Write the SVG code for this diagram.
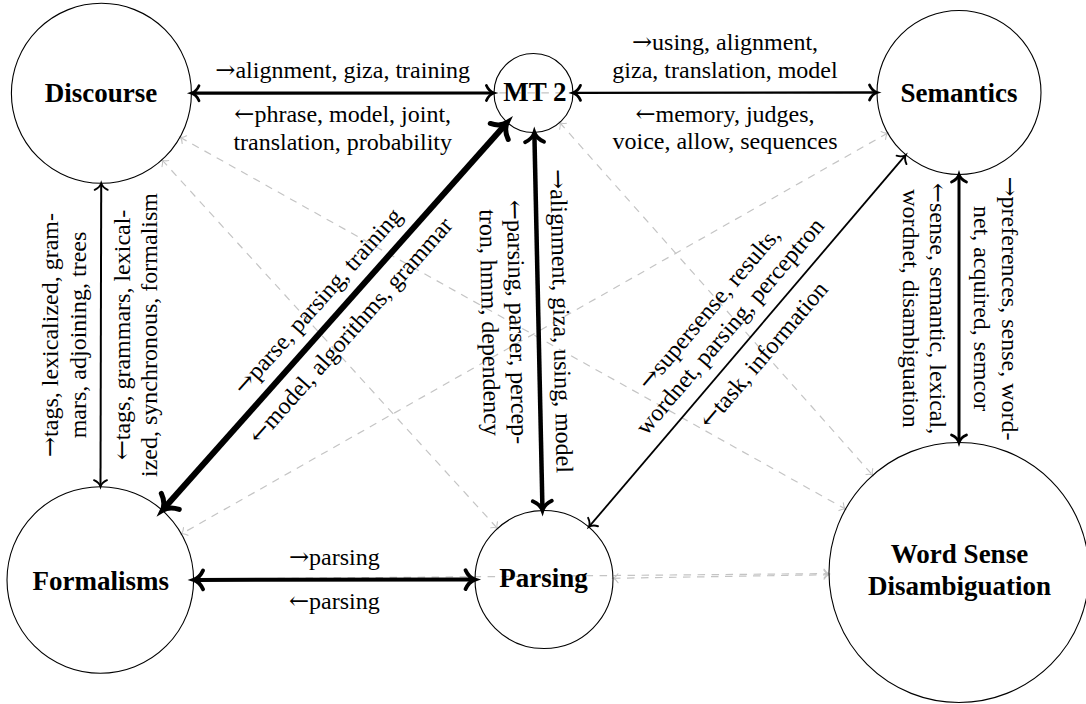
<svg xmlns="http://www.w3.org/2000/svg" width="1086" height="704" viewBox="0 0 1086 704">
<style>
.ar{font-family:'DejaVu Serif',serif}
</style>
<defs>
<marker id="mG" markerUnits="userSpaceOnUse" orient="auto-start-reverse" viewBox="-10 -10 20 20" markerWidth="20" markerHeight="20" refX="0" refY="0">
<path d="M-5,-4.5 C-3.5,-2 -1.6,-0.5 0,0 C-1.6,0.5 -3.5,2 -5,4.5" fill="none" stroke="#c4c4c4" stroke-width="1.1" stroke-linecap="round" stroke-dasharray="none"/>
</marker>
<marker id="mH" markerUnits="userSpaceOnUse" orient="auto-start-reverse" viewBox="-20 -20 40 40" markerWidth="40" markerHeight="40" refX="-3" refY="0">
<path d="M-12,-12 C-9,-5 -4,-1.2 0,0 C-4,1.2 -9,5 -12,12" fill="none" stroke="#000" stroke-linecap="round" stroke-width="5"/>
</marker>
<marker id="mT" markerUnits="userSpaceOnUse" orient="auto-start-reverse" viewBox="-20 -20 40 40" markerWidth="40" markerHeight="40" refX="-2.2" refY="0">
<path d="M-9.5,-9.5 C-7,-4 -3,-1 0,0 C-3,1 -7,4 -9.5,9.5" fill="none" stroke="#000" stroke-linecap="round" stroke-width="3.8"/>
</marker>
<marker id="mM" markerUnits="userSpaceOnUse" orient="auto-start-reverse" viewBox="-20 -20 40 40" markerWidth="40" markerHeight="40" refX="-1.5" refY="0">
<path d="M-7.5,-7.5 C-5.5,-3 -2.5,-0.8 0,0 C-2.5,0.8 -5.5,3 -7.5,7.5" fill="none" stroke="#000" stroke-linecap="round" stroke-width="2.8"/>
</marker>
<marker id="mS" markerUnits="userSpaceOnUse" orient="auto-start-reverse" viewBox="-20 -20 40 40" markerWidth="40" markerHeight="40" refX="-1" refY="0">
<path d="M-6.5,-6.5 C-4.8,-2.6 -2.2,-0.7 0,0 C-2.2,0.7 -4.8,2.6 -6.5,6.5" fill="none" stroke="#000" stroke-linecap="round" stroke-width="1.9"/>
</marker>
</defs>
<g id="connectors">
<g id="weak-links" fill="none" stroke="#c4c4c4" stroke-width="1.2" stroke-dasharray="7.5 6.5" marker-start="url(#mG)" marker-end="url(#mG)">
<line x1="191.4" y1="93.3" x2="877" y2="92.5"/>
<line x1="162" y1="159.9" x2="497.5" y2="528.5"/>
<line x1="180" y1="137.2" x2="845.5" y2="509.1"/>
<line x1="559.7" y1="122.5" x2="872.7" y2="475.3"/>
<line x1="887.7" y1="133" x2="181.4" y2="533.9"/>
<line x1="613" y1="578.3" x2="829" y2="574.7"/>
<line x1="193.6" y1="579.2" x2="829" y2="573.6"/>
</g>
<g id="strong-links" fill="none" stroke="#000">
<line x1="193" y1="93.2" x2="492.4" y2="93" stroke-width="3.2" marker-start="url(#mM)" marker-end="url(#mM)"/>
<line x1="574.5" y1="92.9" x2="875.5" y2="92.5" stroke-width="2.4" marker-start="url(#mM)" marker-end="url(#mM)"/>
<line x1="101.2" y1="184.3" x2="100.5" y2="485.7" stroke-width="2" marker-start="url(#mS)" marker-end="url(#mS)"/>
<line x1="505.2" y1="124.7" x2="164.3" y2="508.1" stroke-width="6" marker-start="url(#mH)" marker-end="url(#mH)"/>
<line x1="534.4" y1="134.7" x2="542.45" y2="508.3" stroke-width="4.5" marker-start="url(#mT)" marker-end="url(#mT)"/>
<line x1="589.5" y1="526.2" x2="905.1" y2="155.7" stroke-width="1.8" marker-start="url(#mS)" marker-end="url(#mS)"/>
<line x1="959" y1="176" x2="959" y2="441" stroke-width="3" marker-start="url(#mM)" marker-end="url(#mM)"/>
<line x1="195.8" y1="579.9" x2="472.8" y2="579.6" stroke-width="4" marker-start="url(#mT)" marker-end="url(#mT)"/>
</g>
<g id="labels" font-family="'Liberation Serif', serif" font-size="24" text-anchor="middle" fill="#000">
<g transform="translate(342.7,93.1)">
<text y="-15"><tspan class="ar">→</tspan>alignment, giza, training</text>
<text y="29"><tspan class="ar">←</tspan>phrase, model, joint,</text>
<text y="56.5">translation, probability</text>
</g>
<g transform="translate(725,92.7)">
<text y="-42.5"><tspan class="ar">→</tspan>using, alignment,</text>
<text y="-15">giza, translation, model</text>
<text y="29"><tspan class="ar">←</tspan>memory, judges,</text>
<text y="56.5">voice, allow, sequences</text>
</g>
<g transform="translate(100.85,335) rotate(-90)">
<text y="-42.5"><tspan class="ar">→</tspan>tags, lexicalized, gram-</text>
<text y="-15">mars, adjoining, trees</text>
<text y="29"><tspan class="ar">←</tspan>tags, grammars, lexical-</text>
<text y="56.5">ized, synchronous, formalism</text>
</g>
<g transform="translate(334.75,316.4) rotate(-48.35)">
<text y="-15"><tspan class="ar">→</tspan>parse, parsing, training</text>
<text y="29"><tspan class="ar">←</tspan>model, algorithms, grammar</text>
</g>
<g transform="translate(538.4,321.5) rotate(88.76)">
<text y="-15"><tspan class="ar">→</tspan>alignment, giza, using, model</text>
<text y="29"><tspan class="ar">←</tspan>parsing, parser, percep-</text>
<text y="56.5">tron, hmm, dependency</text>
</g>
<g transform="translate(747.3,341) rotate(-49.56)">
<text y="-42.5"><tspan class="ar">→</tspan>supersense, results,</text>
<text y="-15">wordnet, parsing, perceptron</text>
<text y="29"><tspan class="ar">←</tspan>task, information</text>
</g>
<g transform="translate(959,308.5) rotate(90)">
<text y="-42.5"><tspan class="ar">→</tspan>preferences, sense, word-</text>
<text y="-15">net, acquired, semcor</text>
<text y="29"><tspan class="ar">←</tspan>sense, semantic, lexical,</text>
<text y="56.5">wordnet, disambiguation</text>
</g>
<g transform="translate(334.3,579.7)">
<text y="-15"><tspan class="ar">→</tspan>parsing</text>
<text y="29"><tspan class="ar">←</tspan>parsing</text>
</g>
</g>
</g>
<g id="nodes" font-family="'Liberation Serif', serif" font-weight="bold" font-size="27" text-anchor="middle">
<g id="discourse">
<circle cx="101.4" cy="93.3" r="90" fill="none" stroke="#000" stroke-width="1.1"/>
<text x="101" y="102">Discourse</text>
</g>
<g id="mt2">
<circle cx="533.5" cy="93" r="39.5" fill="none" stroke="#000" stroke-width="1.1"/>
<text x="535" y="101">MT 2</text>
</g>
<g id="semantics">
<circle cx="959" cy="92.5" r="82" fill="none" stroke="#000" stroke-width="1.1"/>
<text x="959" y="102">Semantics</text>
</g>
<g id="formalisms">
<circle cx="100.3" cy="580" r="93.3" fill="none" stroke="#000" stroke-width="1.1"/>
<text x="100.8" y="589.5">Formalisms</text>
</g>
<g id="parsing">
<circle cx="544" cy="579.5" r="69" fill="none" stroke="#000" stroke-width="1.1"/>
<text x="543.5" y="586.5">Parsing</text>
</g>
<g id="wsd">
<circle cx="959" cy="572.5" r="130" fill="none" stroke="#000" stroke-width="1.1"/>
<text x="959.5" y="563">Word Sense</text>
<text x="959.5" y="595">Disambiguation</text>
</g>
</g>
</svg>
